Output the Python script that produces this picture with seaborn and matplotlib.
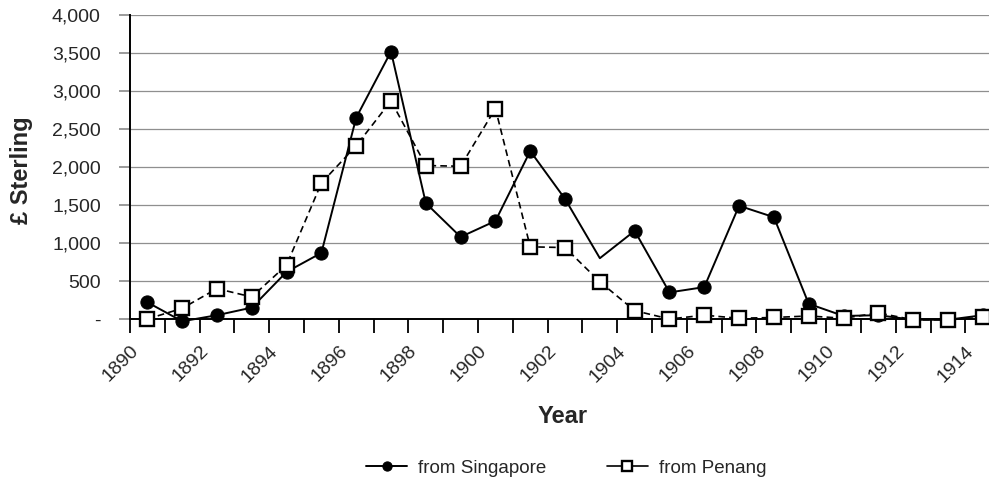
import numpy as np
import pandas as pd
import seaborn as sns
import matplotlib.pyplot as plt
from matplotlib.ticker import FuncFormatter, MultipleLocator

# values (pounds sterling)
years = list(range(1890, 1915))
singapore = [220, -30, 50, 150, 620, 870, 2650, 3520, 1525, 1080, 1290, 2210, 1580,
             800, 1160, 350, 420, 1490, 1340, 200, 40, 50, -10, -10, 50]
penang = [0, 140, 400, 290, 710, 1790, 2280, 2870, 2020, 2010, 2770, 950, 940,
          490, 110, 0, 50, 10, 20, 40, 10, 80, -10, -10, 20]
y_ticks = [0, 500, 1000, 1500, 2000, 2500, 3000, 3500, 4000]

df = pd.DataFrame({"year": years, "Singapore": singapore, "Penang": penang})
df["xpos"] = df["year"] + 0.5  # category centre

sns.set_theme(style="white")
plt.rcParams["font.family"] = ["Liberation Sans", "DejaVu Sans"]

fig = plt.figure(figsize=(9.89, 4.84), dpi=100)
ax = fig.add_axes([0.1314, 0.3409, 0.8686, 0.628])

# the scan shows no marker on the 1903 Singapore vertex
sing_marks = [i for i in range(len(years)) if years[i] != 1903]

sns.lineplot(data=df, x="xpos", y="Singapore", ax=ax, color="black", lw=1.4,
             marker="o", markersize=9.5, markerfacecolor="black", markeredgecolor="black",
             markevery=sing_marks, label="from Singapore", clip_on=False, zorder=3)
sns.lineplot(data=df, x="xpos", y="Penang", ax=ax, color="black", lw=1.2,
             linestyle=(0, (4, 2.5)), marker="s", markersize=9.5, markerfacecolor="white",
             markeredgecolor="black", markeredgewidth=1.7, label="from Penang",
             clip_on=False, zorder=4)

ax.set_xlim(1890, 1914.68)
ax.set_ylim(0, 4000)
ax.set_yticks(y_ticks)
ax.yaxis.set_major_formatter(FuncFormatter(lambda v, p: "-" if v == 0 else f"{int(v):,}"))
ax.grid(axis="y", color="#8f8f8f", lw=0.9)
ax.tick_params(axis="y", which="major", left=True, length=8, color="#8f8f8f",
               labelsize=14, pad=13)

ax.xaxis.set_major_locator(MultipleLocator(2))
ax.xaxis.set_minor_locator(MultipleLocator(1))
ax.tick_params(axis="x", which="both", bottom=True, length=10, width=1.3,
               color="black", direction="out")
ax.tick_params(axis="x", which="major", labelsize=14, pad=7)
for lab in ax.get_xticklabels():
    lab.set_rotation(45)
    lab.set_ha("right")
    lab.set_va("top")
    lab.set_rotation_mode("anchor")

for side in ["top", "right"]:
    ax.spines[side].set_visible(False)
for side in ["left", "bottom"]:
    ax.spines[side].set_color("black")
    ax.spines[side].set_linewidth(1.4)

ax.set_xlabel("Year", fontsize=17, fontweight="bold")
ax.xaxis.set_label_coords(0.504, -0.283)
ax.set_ylabel("£ Sterling", fontsize=17, fontweight="bold")
ax.yaxis.set_label_coords(-0.113, 0.49)

leg = ax.legend(loc="center", bbox_to_anchor=(0.508, -0.49), ncol=2,
                frameon=False, fontsize=13.5, handlelength=2.2, columnspacing=3.2,
                handletextpad=0.6, markerscale=0.7)
leg.get_lines()[1].set_linestyle("-")

fig.savefig("out.png", dpi=100)
